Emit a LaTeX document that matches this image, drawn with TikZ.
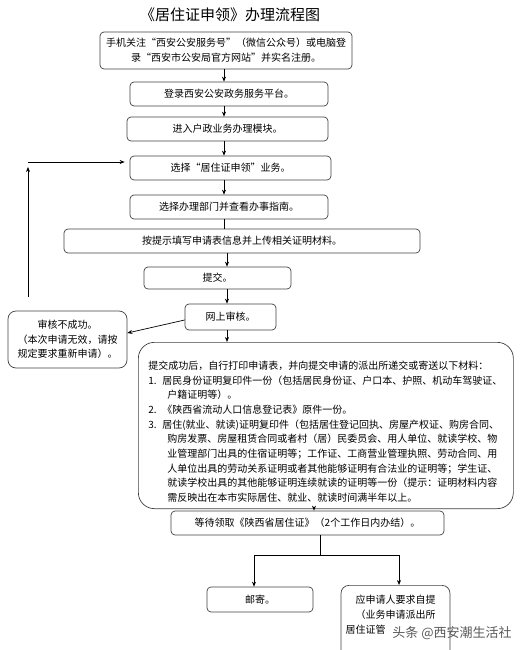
\documentclass[tikz,border=0pt]{standalone}
\usepackage{fontspec}
\setmainfont{Noto Sans CJK SC}
\usetikzlibrary{arrows.meta,calc}

\begin{document}
\begin{tikzpicture}[x=1pt, y=-1pt,
  box/.style={draw=black!75, rounded corners=4pt, line width=0.7pt, align=center, inner sep=2pt, font=\fontsize{10}{14.7}\selectfont},
  arr/.style={-{Stealth[length=5pt,width=4pt]}, line width=0.7pt},
  tline/.style={line width=0.7pt},
]
\useasboundingbox (0,0) rectangle (524,650);
\node[font=\fontsize{15}{15}\selectfont] (title) at (230,15) {《居住证申领》办理流程图};
\node[box, minimum width=252, minimum height=37] (b1) at (226,50.5) {手机关注“西安公安服务号”（微信公众号）或电脑登\\ 录“西安市公安局官方网站”并实名注册。};
\node[box, minimum width=198, minimum height=24] (b2) at (229,94) {登录西安公安政务服务平台。};
\node[box, minimum width=201, minimum height=24] (b3) at (227.5,129) {进入户政业务办理模块。};
\node[box, minimum width=201, minimum height=24] (b4) at (230.5,168) {选择“居住证申领”业务。};
\node[box, minimum width=198, minimum height=24] (b5) at (229,207) {选择办理部门并查看办事指南。};
\node[box, minimum width=356, minimum height=24] (b6) at (242,241) {按提示填写申请表信息并上传相关证明材料。};
\node[box, minimum width=147, minimum height=22] (b7) at (217.5,278) {提交。};
\node[box, minimum width=91, minimum height=26] (b8) at (230.5,317) {网上审核。};
\node[box, rounded corners=8pt, minimum width=119, minimum height=57] (b9) at (67.5,339.5) {审核不成功。\\ （本次申请无效，请按\\ 规定要求重新申请）。};
\node[box, rounded corners=16pt, anchor=north west, text width=355pt, align=left, inner xsep=10pt] (b10) at (138,342) {\rule{0pt}{25pt}提交成功后，自行打印申请表，并向提交申请的派出所递交或寄送以下材料：\\
\makebox[14pt][l]{1.}居民身份证明复印件一份（包括居民身份证、户口本、护照、机动车驾驶证、\\
\hspace*{19pt}户籍证明等）。\\
\makebox[14pt][l]{2.}《陕西省流动人口信息登记表》原件一份。\\
\makebox[14pt][l]{3.}居住(就业、就读)证明复印件（包括居住登记回执、房屋产权证、购房合同、\\
\hspace*{19pt}购房发票、房屋租赁合同或者村（居）民委员会、用人单位、就读学校、物\\
\hspace*{19pt}业管理部门出具的住宿证明等；工作证、工商营业管理执照、劳动合同、用\\
\hspace*{19pt}人单位出具的劳动关系证明或者其他能够证明有合法业的证明等；学生证、\\
\hspace*{19pt}就读学校出具的其他能够证明连续就读的证明等一份（提示：证明材料内容\\
\hspace*{19pt}需反映出在本市实际居住、就业、就读时间满半年以上。\rule[-5pt]{0pt}{5pt}};
\node[box, minimum width=273, minimum height=24] (b11) at (307.5,523) {等待领取《陕西省居住证》（2个工作日内办结）。};
\node[box, minimum width=106, minimum height=25] (b12) at (260,599.5) {邮寄。};
\node[box, rounded corners=8pt, anchor=north, minimum width=109, inner ysep=10pt] (b13) at (395.5,585) {应申请人要求自提\\ （业务申请派出所\\ \makebox[100pt][l]{居住证管}\rule[-40pt]{0pt}{40pt}};
\node[font=\fontsize{13}{13}\selectfont, text=black!65] (wm) at (452,633) {头条 @西安潮生活社};
% main column
\coordinate (spine) at (224,0);
\coordinate (spine2) at (227,0);
\coordinate (spine3) at (314,0);
\draw[arr] (spine |- b1.south) -- (spine |- b2.north);
\draw[arr] (spine |- b2.south) -- (spine |- b3.north);
\draw[arr] (spine |- b3.south) -- (spine |- b4.north);
\draw[arr] (spine |- b4.south) -- (spine |- b5.north);
\draw[tline] (spine |- b5.south) -- (spine |- b6.north);
\draw[arr] (spine2 |- b6.south) -- (spine2 |- b7.north);
\draw[arr] (spine2 |- b7.south) -- (spine2 |- b8.north);
\draw[arr] (spine2 |- b8.south) -- (spine2 |- b10.north);
\draw[arr] ([yshift=-3pt]b8.west) -- ([yshift=6.5pt]b9.east);
\draw[arr] (spine3 |- b10.south) -- (spine3 |- b11.north);
% failed review loop
\coordinate (loopB) at (28,297);
\coordinate (loopT) at (28,167);
\coordinate (loopC) at (28,162);
\draw[arr] (loopB) -- (loopT);
\draw[arr, shorten >=5pt] (loopC) -- (loopC -| b4.west);
% pick-up fork
\coordinate (fork) at (320,555);
\coordinate (forkL) at (254,555);
\coordinate (forkR) at (399,555);
\draw[tline] (fork |- b11.south) -- (fork);
\draw[tline] (forkL) -- (forkR);
\draw[arr] (forkL) -- (forkL |- b12.north);
\draw[arr] (forkR) -- (forkR |- b13.north);
\end{tikzpicture}
\end{document}
